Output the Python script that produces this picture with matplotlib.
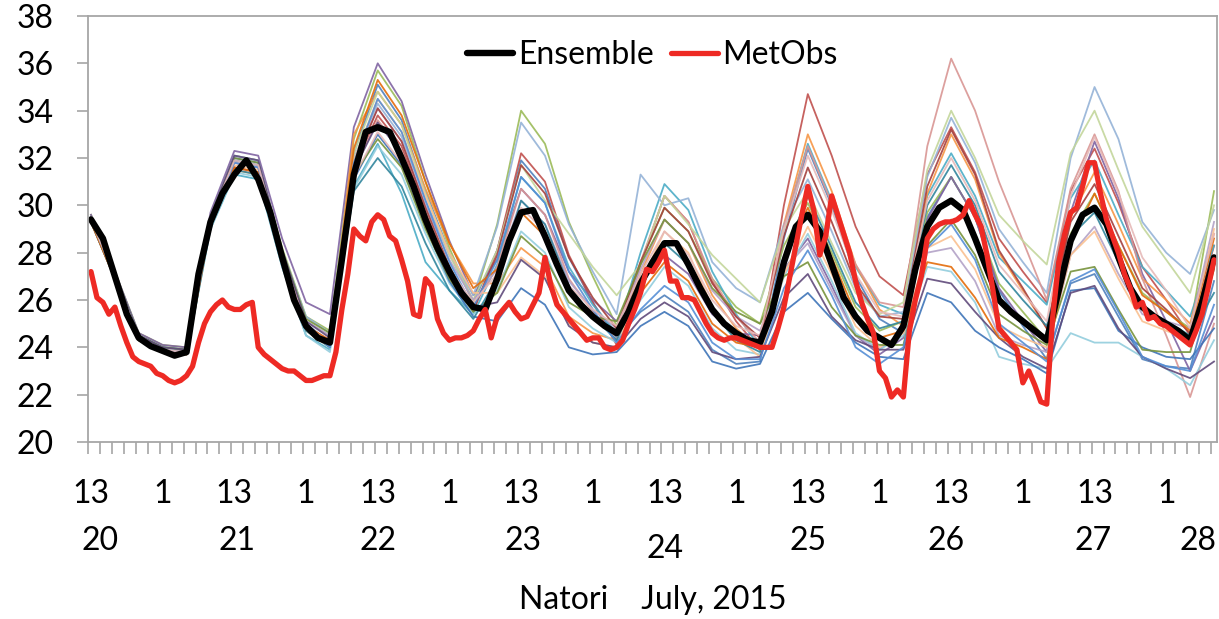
import numpy as np
import matplotlib
matplotlib.use("Agg")
import matplotlib.pyplot as plt

plt.rcParams['font.family'] = ['Lato', 'DejaVu Sans']

# hourly index, 0 = 13h on July 20
obs_hours = np.arange(189)
mean_hours = np.arange(0, 189, 2)
member_hours = np.arange(0, 189, 4)

# MetObs (hourly)
metobs = [27.2, 26.1, 25.9, 25.4, 25.7, 24.9, 24.2, 23.6, 23.4, 23.3,
          23.2, 22.9, 22.8, 22.6, 22.5, 22.6, 22.8, 23.2, 24.2, 25.0,
          25.5, 25.8, 26.0, 25.7, 25.6, 25.6, 25.8, 25.9, 24.0, 23.7,
          23.5, 23.3, 23.1, 23.0, 23.0, 22.8, 22.6, 22.6, 22.7, 22.8,
          22.8, 23.8, 25.6, 27.1, 29.0, 28.7, 28.5, 29.3, 29.6, 29.4,
          28.7, 28.5, 27.7, 26.8, 25.4, 25.3, 26.9, 26.6, 25.2, 24.6,
          24.3, 24.4, 24.4, 24.5, 24.7, 25.2, 25.6, 24.4, 25.3, 25.6,
          25.9, 25.5, 25.2, 25.3, 25.8, 26.3, 27.8, 26.6, 25.8, 25.5,
          25.2, 24.9, 24.6, 24.3, 24.4, 24.4, 24.0, 23.9, 24.0, 24.3,
          25.0, 25.6, 26.3, 27.3, 27.2, 27.6, 28.1, 26.8, 26.8, 26.1,
          26.1, 26.0, 25.5, 25.0, 24.6, 24.4, 24.3, 24.4, 24.4, 24.3,
          24.2, 24.1, 24.0, 24.0, 24.0, 24.8, 25.7, 27.0, 28.3, 29.6,
          30.8, 29.8, 27.9, 28.7, 30.4, 29.6, 28.8, 28.0, 26.8, 25.9,
          25.2, 24.6, 23.0, 22.7, 21.9, 22.2, 21.9, 24.7, 26.0, 27.0,
          28.6, 29.0, 29.2, 29.3, 29.3, 29.4, 29.6, 30.2, 29.6, 29.1,
          27.9, 26.4, 24.8, 24.5, 24.2, 23.9, 22.5, 23.0, 22.4, 21.7,
          21.6, 25.3, 27.6, 28.8, 29.7, 29.9, 30.8, 31.8, 31.8, 30.5,
          29.4, 28.7, 28.0, 27.1, 26.5, 25.7, 25.9, 25.2, 25.3, 25.0,
          24.9, 24.7, 24.5, 24.3, 24.1, 24.7, 25.4, 26.5, 27.7]

# ensemble mean (every 2 h)
ensemble = [29.4, 28.6, 27.0, 25.4, 24.4, 24.05, 23.85, 23.65, 23.8, 27.1,
            29.3, 30.5, 31.3, 31.9, 31.1, 29.7, 27.8, 26.0, 24.9, 24.4,
            24.2, 27.7, 31.3, 33.1, 33.3, 33.1, 32.0, 30.8, 29.4, 28.2,
            27.2, 26.3, 25.7, 25.6, 26.9, 28.5, 29.7, 29.8, 28.7, 27.5,
            26.4, 25.8, 25.3, 24.9, 24.6, 25.5, 26.7, 27.6, 28.4, 28.4,
            27.5, 26.5, 25.6, 25.0, 24.6, 24.3, 24.2, 25.5, 27.6, 29.1,
            29.6, 28.9, 27.5, 26.1, 25.3, 24.7, 24.4, 24.1, 24.9, 27.3,
            29.1, 29.9, 30.2, 29.8, 28.6, 27.3, 26.0, 25.5, 25.1, 24.7,
            24.3, 26.4, 28.5, 29.6, 29.9, 29.2, 27.8, 26.5, 25.7, 25.3,
            25.0, 24.7, 24.3, 25.9, 27.8]

# ensemble members (every 4 h)
m00 = [29.5, 27.1, 24.5, 24.0, 23.9,
       29.5, 32.0, 31.8, 27.9, 25.0, 24.2,
       32.2, 35.1, 33.6, 30.6, 28.0, 25.9,
       28.1, 31.9, 30.7, 27.8, 25.9, 24.4,
       25.5, 26.2, 25.5, 23.9, 23.3, 23.4,
       28.6, 32.4, 30.0, 27.0, 25.2, 24.6,
       29.5, 31.2, 29.5, 26.4, 24.9, 23.5,
       26.7, 27.1, 25.3, 23.5, 23.2, 23.1, 26.8]
m01 = [29.4, 27.0, 24.4, 23.9, 23.8,
       29.3, 31.8, 31.6, 27.8, 24.9, 24.2,
       31.6, 33.8, 32.5, 29.7, 27.2, 25.5,
       28.1, 32.2, 31.0, 27.9, 25.9, 24.1,
       27.5, 30.4, 29.3, 26.8, 25.1, 23.9,
       30.0, 34.7, 32.1, 29.1, 27.0, 26.2,
       31.3, 33.3, 31.4, 28.6, 27.2, 25.9,
       30.6, 32.4, 30.1, 27.4, 26.0, 24.5, 28.3]
m02 = [29.6, 27.2, 24.6, 24.1, 24.0,
       29.6, 32.1, 31.9, 28.2, 25.3, 24.7,
       32.8, 35.7, 34.2, 31.0, 28.2, 25.9,
       29.2, 34.0, 32.6, 29.3, 27.0, 24.9,
       27.6, 29.9, 28.9, 26.9, 25.7, 25.0,
       28.3, 30.1, 28.0, 25.7, 24.7, 25.1,
       29.7, 31.2, 29.5, 26.7, 25.5, 24.3,
       28.8, 30.5, 28.3, 26.3, 25.5, 24.8, 30.6]
m03 = [29.6, 27.2, 24.6, 24.1, 24.0,
       29.7, 32.3, 32.1, 28.6, 25.9, 25.4,
       33.3, 36.0, 34.4, 31.3, 28.5, 26.2,
       27.7, 30.7, 29.6, 27.2, 26.0, 25.1,
       26.7, 27.9, 27.1, 25.4, 24.6, 24.5,
       27.3, 28.6, 26.6, 24.5, 23.7, 24.4,
       29.4, 31.2, 29.5, 26.5, 25.1, 23.8,
       29.7, 32.7, 30.3, 27.1, 25.1, 23.0, 25.3]
m04 = [29.3, 26.9, 24.3, 23.8, 23.7,
       29.0, 31.3, 31.1, 27.4, 24.5, 23.9,
       30.8, 32.6, 30.5, 27.6, 26.4, 25.4,
       27.5, 31.2, 30.1, 27.4, 25.8, 24.6,
       28.0, 30.9, 29.8, 27.2, 25.4, 24.0,
       29.0, 32.6, 30.2, 27.4, 25.8, 25.4,
       30.4, 32.2, 30.4, 27.8, 26.8, 25.8,
       30.3, 31.9, 29.6, 27.4, 26.4, 25.3, 28.3]
m05 = [29.3, 26.9, 24.3, 23.8, 23.7,
       29.1, 31.5, 31.3, 27.5, 24.7, 24.0,
       33.0, 34.8, 33.4, 30.7, 28.4, 26.7,
       26.7, 28.2, 27.4, 25.3, 24.6, 24.3,
       27.1, 29.4, 28.4, 26.2, 24.8, 23.9,
       29.2, 33.0, 30.6, 27.5, 25.6, 24.9,
       30.5, 33.0, 31.1, 28.0, 26.4, 24.8,
       29.5, 31.4, 29.2, 26.9, 26.0, 25.0, 28.8]
m06 = [29.5, 27.1, 24.5, 24.0, 23.9,
       29.5, 32.1, 31.9, 28.1, 25.3, 24.6,
       32.0, 34.3, 32.9, 30.2, 27.9, 26.2,
       29.1, 33.5, 32.1, 29.2, 27.2, 25.4,
       31.3, 30.0, 30.3, 27.6, 26.5, 25.9,
       29.2, 31.1, 28.9, 26.5, 25.3, 25.5,
       31.2, 33.7, 31.8, 29.0, 27.6, 26.3,
       32.0, 35.0, 32.8, 29.3, 28.0, 27.1, 29.8]
m07 = [29.4, 27.0, 24.4, 23.9, 23.8,
       29.2, 31.6, 31.4, 27.7, 24.9, 24.3,
       31.5, 33.6, 32.3, 29.6, 27.3, 25.7,
       27.4, 30.7, 29.6, 26.9, 25.5, 24.3,
       27.6, 30.4, 29.3, 26.9, 25.3, 24.2,
       29.1, 32.5, 30.1, 27.5, 25.9, 25.7,
       32.5, 36.2, 34.0, 31.0, 28.5, 26.0,
       30.7, 33.0, 30.6, 26.9, 24.5, 21.9, 25.0]
m08 = [29.5, 27.1, 24.5, 24.0, 23.9,
       29.4, 31.9, 31.7, 28.0, 25.1, 24.5,
       32.2, 34.8, 33.4, 30.5, 27.9, 26.0,
       28.1, 31.7, 30.2, 28.8, 27.4, 26.2,
       27.5, 30.4, 29.2, 27.9, 26.9, 25.9,
       29.0, 30.6, 28.4, 26.3, 25.4, 25.9,
       31.5, 34.0, 32.0, 29.6, 28.5, 27.5,
       32.2, 34.0, 31.5, 29.1, 27.7, 26.3, 30.0]
m09 = [29.4, 27.0, 24.4, 23.9, 23.8,
       29.3, 31.8, 31.6, 27.9, 25.1, 24.5,
       31.9, 34.1, 32.7, 30.0, 27.7, 26.0,
       27.3, 30.2, 29.2, 26.8, 25.6, 24.8,
       27.3, 29.4, 28.4, 26.4, 25.3, 24.7,
       27.3, 28.4, 26.4, 24.5, 23.9, 24.7,
       28.0, 28.2, 26.8, 24.5, 24.1, 23.8,
       27.9, 29.1, 27.1, 25.4, 25.1, 24.8, 29.3]
m10 = [29.3, 26.9, 24.3, 23.8, 23.7,
       29.0, 31.4, 31.2, 27.4, 24.5, 23.8,
       30.7, 32.5, 31.3, 28.8, 26.7, 25.4,
       26.4, 28.9, 28.0, 25.7, 24.8, 24.2,
       26.0, 27.4, 26.6, 24.8, 23.9, 23.7,
       27.0, 28.8, 26.8, 24.6, 23.9, 24.5,
       27.4, 27.2, 25.9, 23.6, 23.3, 23.1,
       24.6, 24.2, 24.2, 23.6, 23.1, 22.4, 24.3]
m11 = [29.4, 27.0, 24.4, 23.9, 23.8,
       29.3, 31.7, 31.5, 27.7, 24.8, 24.1,
       31.9, 34.5, 33.1, 30.4, 28.0, 26.3,
       26.3, 27.8, 27.0, 25.0, 24.2, 24.0,
       26.7, 28.9, 28.0, 25.7, 24.4, 23.6,
       27.1, 29.1, 27.1, 24.9, 24.0, 24.6,
       28.2, 28.7, 27.3, 24.9, 24.4, 24.0,
       27.9, 28.9, 26.9, 25.1, 24.7, 24.3, 29.0]
m12 = [29.5, 27.1, 24.5, 24.0, 23.9,
       29.4, 31.9, 31.7, 27.8, 24.9, 24.1,
       31.1, 33.0, 31.7, 29.1, 26.8, 25.3,
       25.1, 26.5, 25.8, 24.0, 23.7, 23.8,
       24.9, 25.5, 24.9, 23.4, 23.1, 23.3,
       25.5, 26.3, 25.2, 24.2, 23.6, 23.5,
       26.3, 25.9, 24.7, 24.0, 23.5, 22.9,
       26.4, 26.5, 24.7, 24.0, 23.6, 23.5, 24.8]
m13 = [29.3, 26.9, 24.3, 23.8, 23.7,
       29.2, 31.6, 31.4, 27.7, 24.8, 24.2,
       31.7, 34.1, 32.7, 29.9, 27.4, 25.6,
       27.9, 31.7, 30.5, 27.8, 26.1, 24.8,
       27.6, 29.9, 28.9, 26.7, 25.3, 24.4,
       28.7, 31.6, 29.3, 26.7, 25.3, 25.2,
       30.8, 33.2, 31.3, 28.1, 26.5, 24.8,
       29.3, 30.9, 28.7, 26.5, 25.6, 24.6, 27.8]
m14 = [29.5, 27.1, 24.5, 24.0, 23.9,
       29.5, 32.0, 31.8, 28.1, 25.2, 24.6,
       31.3, 32.8, 31.6, 29.0, 26.9, 25.5,
       26.3, 28.7, 27.8, 25.9, 25.3, 25.1,
       27.5, 29.4, 28.4, 26.5, 25.5, 25.0,
       27.0, 27.6, 25.7, 24.5, 24.1, 24.1,
       28.3, 29.4, 27.9, 25.4, 24.7, 24.1,
       27.2, 27.4, 25.6, 23.9, 23.8, 23.8, 27.3]
m15 = [29.5, 27.1, 24.5, 24.0, 23.9,
       29.5, 32.1, 31.9, 28.1, 25.1, 24.4,
       31.5, 33.5, 32.2, 29.5, 27.3, 25.7,
       25.9, 27.7, 26.9, 24.9, 24.2, 24.0,
       25.2, 25.9, 25.3, 23.8, 23.5, 23.6,
       26.1, 27.1, 25.3, 24.3, 23.9, 23.9,
       26.9, 26.7, 25.5, 24.4, 23.6, 23.1,
       26.3, 26.6, 24.8, 23.6, 23.1, 22.7, 23.4]
m16 = [29.3, 26.9, 24.3, 23.8, 23.7,
       29.1, 31.5, 31.3, 27.5, 24.7, 24.0,
       30.6, 32.0, 30.8, 28.4, 26.4, 25.2,
       26.9, 30.2, 29.2, 26.6, 25.3, 24.3,
       26.6, 28.4, 27.5, 25.5, 24.3, 23.8,
       27.8, 30.4, 28.2, 25.9, 24.8, 25.1,
       30.0, 31.7, 30.0, 27.2, 26.0, 24.9,
       28.7, 29.7, 27.6, 25.6, 25.1, 24.5, 26.3]
m17 = [29.3, 26.9, 24.3, 23.8, 23.7,
       29.2, 31.6, 31.4, 27.7, 24.9, 24.3,
       32.4, 35.3, 33.8, 31.0, 28.4, 26.5,
       27.3, 29.7, 28.7, 26.4, 25.3, 24.6,
       26.3, 27.6, 26.8, 25.0, 24.2, 24.0,
       27.7, 29.9, 27.8, 25.4, 24.4, 24.7,
       27.6, 27.4, 26.1, 24.4, 24.0, 23.5,
       28.4, 30.5, 28.3, 26.2, 25.5, 24.7, 28.6]
m18 = [29.4, 27.0, 24.4, 23.9, 23.8,
       29.3, 31.8, 31.6, 27.7, 24.8, 24.0,
       31.8, 34.5, 33.1, 30.2, 27.6, 25.7,
       27.7, 31.2, 30.1, 27.2, 25.6, 24.2,
       25.6, 26.6, 25.9, 24.2, 23.5, 23.5,
       26.5, 28.1, 26.2, 24.0, 23.3, 24.0,
       28.2, 29.2, 27.7, 25.0, 24.2, 23.4,
       26.8, 27.3, 25.5, 23.6, 23.2, 23.0, 25.8]
m19 = [29.4, 27.0, 24.4, 23.9, 23.8,
       29.4, 31.9, 31.7, 27.9, 24.9, 24.2,
       31.2, 33.1, 31.8, 29.3, 27.3, 25.9,
       27.1, 29.9, 28.9, 26.6, 25.6, 24.9,
       27.1, 28.9, 27.9, 26.0, 24.9, 24.5,
       29.0, 32.1, 29.8, 27.1, 25.5, 25.3,
       30.2, 32.0, 30.2, 27.5, 26.3, 25.1,
       30.4, 32.9, 30.5, 27.8, 26.4, 24.8, 28.8]

members = [m00, m01, m02, m03, m04, m05, m06, m07, m08, m09,
           m10, m11, m12, m13, m14, m15, m16, m17, m18, m19]
member_colors = ['#4F81BD', '#C0504D', '#9BBB59', '#8064A2', '#4BACC6',
                 '#F79646', '#95B3D7', '#D99694', '#C3D69B', '#B3A2C7',
                 '#93CDDD', '#FAC090', '#3E74B8', '#A5403D', '#77933C',
                 '#604A7B', '#31859C', '#E46C0A', '#558ED5', '#E6B9B8']

hour_labels = ['13', '1'] * 8
hour_label_pos = np.arange(0, 181, 12)
day_labels = ['20', '21', '22', '23', '24', '25', '26', '27', '28']

fig = plt.figure(figsize=(12.19, 6.19), dpi=100)
ax = fig.add_axes([88 / 1219, 1 - 442 / 619, 1129 / 1219, 426 / 619])

for vals, col in zip(members, member_colors):
    ax.plot(member_hours, vals, color=col, lw=1.3, alpha=0.9,
            solid_joinstyle='round')

ens_line, = ax.plot(mean_hours, ensemble, color='black', lw=4.6,
                    solid_joinstyle='round', solid_capstyle='round')
obs_line, = ax.plot(obs_hours, metobs, color='#EE2A24', lw=3.8,
                    solid_joinstyle='round', solid_capstyle='round')

ax.set_xlim(-0.5, 188.5)
ax.set_ylim(20, 38)
ax.set_yticks(np.arange(20, 39, 2))
ax.set_xticks(np.arange(-0.5, 189, 2))
ax.set_xticklabels([])

for s in ax.spines.values():
    s.set_color('#A6A6A6')
    s.set_linewidth(1.3)

ax.tick_params(axis='y', direction='out', length=8, width=1.2,
               color='#A6A6A6', labelsize=23, pad=17)
ax.tick_params(axis='x', direction='out', length=8.5, width=1.2,
               color='#A6A6A6')

# category labels under the axis
tr = ax.get_xaxis_transform()
for pos, lab in zip(hour_label_pos, hour_labels):
    ax.text(pos, -0.121, lab, transform=tr, ha='center', va='center',
            fontsize=23)
day_pos = [1.6, 24.4, 48.0, 72.4, 96.1, 120.1, 143.1, 167.8, 185.3]
for pos, lab in zip(day_pos, day_labels):
    yy = -0.25 if lab == '24' else -0.232
    ax.text(pos, yy, lab, transform=tr, ha='center', va='center', fontsize=23)

ax.text(0.5, -0.371, 'Natori    July, 2015', transform=ax.transAxes,
        ha='center', va='center', fontsize=23)

ax.legend([ens_line, obs_line], ['Ensemble', 'MetObs'], loc='center',
          bbox_to_anchor=(0.5, 0.908), ncol=2, frameon=False, fontsize=23,
          handlelength=1.45, handletextpad=0.15, columnspacing=0.55,
          borderaxespad=0)

fig.savefig('out.png', dpi=100)
